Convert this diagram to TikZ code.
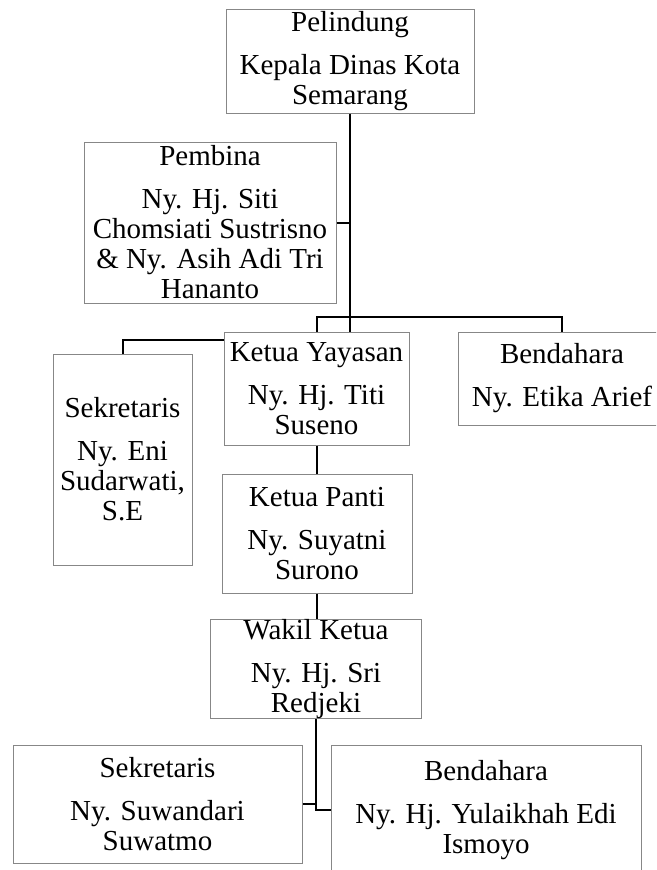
\documentclass[tikz,border=0pt]{standalone}
\usepackage{fontspec}
\setmainfont{Liberation Serif}
\definecolor{boxgray}{RGB}{135,135,135}
\begin{document}
\begin{tikzpicture}[x=1pt,y=-1pt,
  box/.style={draw=boxgray, line width=1pt, inner sep=0pt, align=center,
    font=\fontsize{29}{30}\selectfont},
  conn/.style={draw=black, line width=2pt}]
\clip (0,0) rectangle (656,870);
\fill[white] (0,0) rectangle (656,870);

\node[box, minimum width=248pt, minimum height=104pt] (pel) at (350,61)
  {Pelindung\\[13pt]Kepala Dinas Kota\\Semarang};
\node[box, minimum width=252pt, minimum height=161pt] (pem) at (210,222.5)
  {Pembina\\[13pt]Ny. Hj. Siti\\Chomsiati Sustrisno\\\& Ny. Asih Adi Tri\\Hananto};
\node[box, minimum width=185pt, minimum height=113pt] (ky) at (316.5,388.5)
  {Ketua Yayasan\\[13pt]Ny. Hj. Titi\\Suseno};
\node[box, minimum width=139pt, minimum height=211pt] (sek) at (122.5,459.5)
  {Sekretaris\\[13pt]Ny. Eni\\Sudarwati,\\S.E};
\node[box, minimum width=208pt, minimum height=93pt] (ben) at (562,378.5)
  {Bendahara\\[13pt]Ny. Etika Arief};
\node[box, minimum width=190pt, minimum height=119pt] (kp) at (317,533.5)
  {Ketua Panti\\[13pt]Ny. Suyatni\\Surono};
\node[box, minimum width=211pt, minimum height=94pt] (wk) at (316,669)
  {Wakil Ketua\\[13pt]Ny. Hj. Sri\\Redjeki};
\node[box, minimum width=289pt, minimum height=118pt] (sek2) at (157.5,804)
  {Sekretaris\\[13pt]Ny. Suwandari\\Suwatmo};
\node[box, minimum width=310pt, minimum height=130pt] (ben2) at (486,810)
  {Bendahara\\[13pt]Ny. Hj. Yulaikhah Edi\\Ismoyo};

\coordinate (bar) at (350,317);
\draw[conn] (pel.south) -- (pel.south |- ky.north);
\draw[conn] (pem.east) -- (pem.east -| pel.south);
\draw[conn] (ky.north) -- (ky.north |- bar) -| (ben.north);
\draw[conn] ([yshift=-8pt]ky.north west) -| (sek.north);
\draw[conn] (ky.south) -- (ky.south |- kp.north);
\draw[conn] (kp.south) -- (kp.south |- wk.north);
\draw[conn] (wk.south) -- (wk.south |- ben2.west) -- (ben2.west);
\draw[conn] (sek2.east) -- (sek2.east -| wk.south);
\end{tikzpicture}
\end{document}
